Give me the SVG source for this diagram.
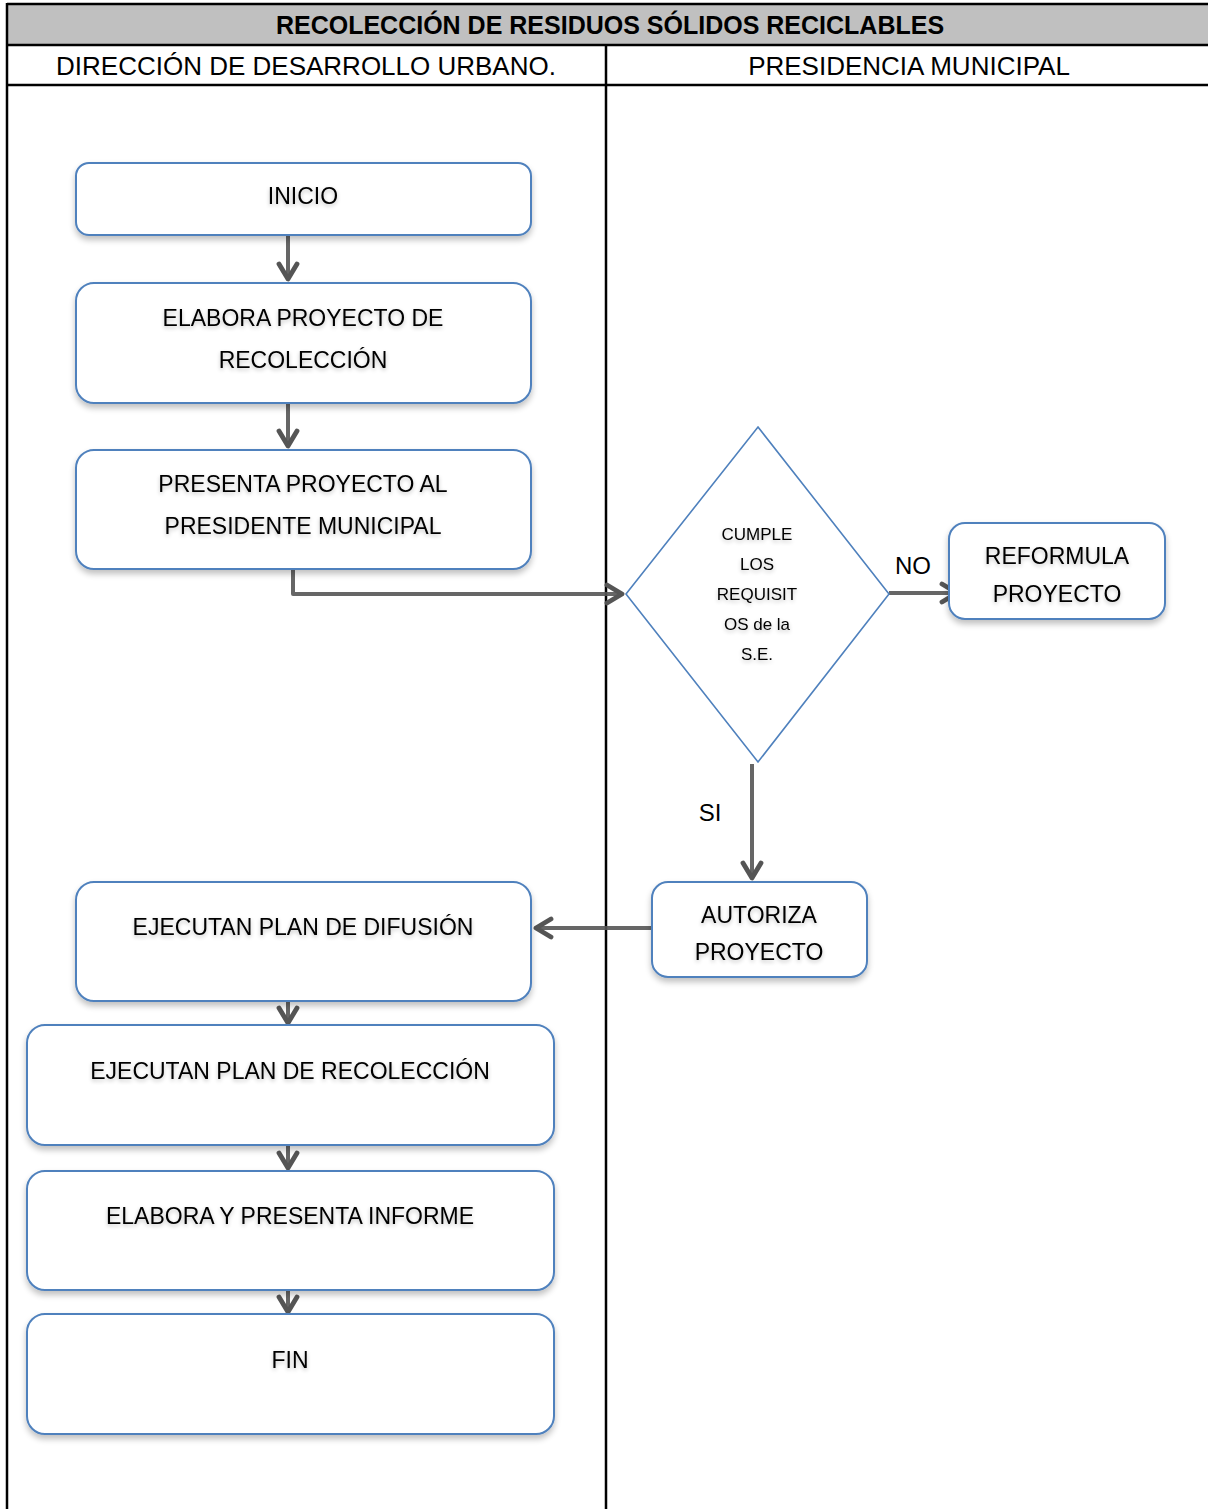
<svg xmlns="http://www.w3.org/2000/svg" width="1208" height="1509" viewBox="0 0 1208 1509">
  <style>
    .node { fill: #ffffff; stroke: #4f81bd; stroke-width: 2; filter: url(#shadow); }
    .lbl { font-family: "Liberation Sans", Arial, sans-serif; font-size: 23px; fill: #000; text-anchor: middle; filter: url(#glow); }
    .small { font-size: 17px; }
    .head { font-family: "Liberation Sans", Arial, sans-serif; font-size: 26px; fill: #000; text-anchor: middle; }
    .title { font-weight: bold; font-size: 25px; }
    .grid { stroke: #000; stroke-width: 2.5; fill: none; }
    .conn { stroke: #555; stroke-width: 4; fill: none; stroke-linejoin: round; stroke-opacity: 0.9; }
  </style>
  <defs>
    <filter id="shadow" x="-10%" y="-20%" width="120%" height="150%">
      <feGaussianBlur in="SourceAlpha" stdDeviation="3"/>
      <feOffset dx="0" dy="4" result="b"/>
      <feComponentTransfer><feFuncA type="linear" slope="0.25"/></feComponentTransfer>
      <feMerge><feMergeNode/><feMergeNode in="SourceGraphic"/></feMerge>
    </filter>
    <filter id="glow" x="-10%" y="-40%" width="120%" height="180%">
      <feGaussianBlur in="SourceAlpha" stdDeviation="2"/>
      <feOffset dx="0" dy="2"/>
      <feComponentTransfer><feFuncA type="linear" slope="0.25"/></feComponentTransfer>
      <feMerge><feMergeNode/><feMergeNode in="SourceGraphic"/></feMerge>
    </filter>
    <marker id="arrow" viewBox="0 0 12 12" refX="10" refY="6" markerWidth="6" markerHeight="6" orient="auto" markerUnits="strokeWidth">
      <path d="M2.5,1.5 L10,6 L2.5,10.5" fill="none" stroke="#555" stroke-width="2.4" stroke-linecap="round" stroke-linejoin="round"/>
    </marker>
  </defs>

  <rect width="1208" height="1509" fill="#ffffff"/>

  <!-- table frame and swimlane headers -->
  <g id="table">
    <rect x="7" y="4" width="1203" height="41" fill="#c0c0c0"/>
    <line class="grid" x1="7" y1="4" x2="1208" y2="4"/>
    <line class="grid" x1="7" y1="45" x2="1208" y2="45"/>
    <line class="grid" x1="7" y1="85" x2="1208" y2="85"/>
    <line class="grid" x1="7" y1="3" x2="7" y2="1509"/>
    <line class="grid" x1="606" y1="45" x2="606" y2="1509"/>
    <text class="head title" x="610" y="34">RECOLECCIÓN DE RESIDUOS SÓLIDOS RECICLABLES</text>
    <text class="head" x="306" y="75">DIRECCIÓN DE DESARROLLO URBANO.</text>
    <text class="head" x="909" y="75">PRESIDENCIA MUNICIPAL</text>
  </g>

  <!-- connectors -->
  <g id="connectors">
    <line class="conn" x1="288" y1="236" x2="288" y2="279" marker-end="url(#arrow)"/>
    <line class="conn" x1="288" y1="404" x2="288" y2="446" marker-end="url(#arrow)"/>
    <polyline class="conn" points="293,569 293,594 622,594" marker-end="url(#arrow)"/>
    <line class="conn" x1="889" y1="593" x2="957" y2="593" marker-end="url(#arrow)"/>
    <line class="conn" x1="752" y1="764" x2="752" y2="878" marker-end="url(#arrow)"/>
    <line class="conn" x1="651" y1="928" x2="536" y2="928" marker-end="url(#arrow)"/>
    <line class="conn" x1="288" y1="1002" x2="288" y2="1023" marker-end="url(#arrow)"/>
    <line class="conn" x1="288" y1="1146" x2="288" y2="1168" marker-end="url(#arrow)"/>
    <line class="conn" x1="288" y1="1291" x2="288" y2="1312" marker-end="url(#arrow)"/>
    <text class="head" x="913" y="574" style="font-size:24px">NO</text>
    <text class="head" x="710" y="821" style="font-size:24px">SI</text>
  </g>

  <!-- process nodes -->
  <g id="inicio">
    <rect class="node" x="76" y="163" width="455" height="72" rx="13"/>
    <text class="lbl" x="303" y="204">INICIO</text>
  </g>
  <g id="elabora-proyecto">
    <rect class="node" x="76" y="283" width="455" height="120" rx="18"/>
    <text class="lbl" x="303" y="326">ELABORA PROYECTO DE</text>
    <text class="lbl" x="303" y="368">RECOLECCIÓN</text>
  </g>
  <g id="presenta-proyecto">
    <rect class="node" x="76" y="450" width="455" height="119" rx="18"/>
    <text class="lbl" x="303" y="492">PRESENTA PROYECTO AL</text>
    <text class="lbl" x="303" y="534">PRESIDENTE MUNICIPAL</text>
  </g>
  <g id="cumple-requisitos">
    <polygon points="758,427 889,594 758,762 626,594" fill="#ffffff" stroke="#4f81bd" stroke-width="1.6"/>
    <text class="lbl small" x="757" y="540">CUMPLE</text>
    <text class="lbl small" x="757" y="570">LOS</text>
    <text class="lbl small" x="757" y="600">REQUISIT</text>
    <text class="lbl small" x="757" y="630">OS de la</text>
    <text class="lbl small" x="757" y="660">S.E.</text>
  </g>
  <g id="reformula">
    <rect class="node" x="949" y="523" width="216" height="96" rx="16"/>
    <text class="lbl" x="1057" y="564">REFORMULA</text>
    <text class="lbl" x="1057" y="602">PROYECTO</text>
  </g>
  <g id="autoriza">
    <rect class="node" x="652" y="882" width="215" height="95" rx="16"/>
    <text class="lbl" x="759" y="923">AUTORIZA</text>
    <text class="lbl" x="759" y="960">PROYECTO</text>
  </g>
  <g id="plan-difusion">
    <rect class="node" x="76" y="882" width="455" height="119" rx="18"/>
    <text class="lbl" x="303" y="935">EJECUTAN PLAN DE DIFUSIÓN</text>
  </g>
  <g id="plan-recoleccion">
    <rect class="node" x="27" y="1025" width="527" height="120" rx="18"/>
    <text class="lbl" x="290" y="1079">EJECUTAN PLAN DE RECOLECCIÓN</text>
  </g>
  <g id="informe">
    <rect class="node" x="27" y="1171" width="527" height="119" rx="18"/>
    <text class="lbl" x="290" y="1224">ELABORA Y PRESENTA INFORME</text>
  </g>
  <g id="fin">
    <rect class="node" x="27" y="1314" width="527" height="120" rx="18"/>
    <text class="lbl" x="290" y="1368">FIN</text>
  </g>
</svg>
